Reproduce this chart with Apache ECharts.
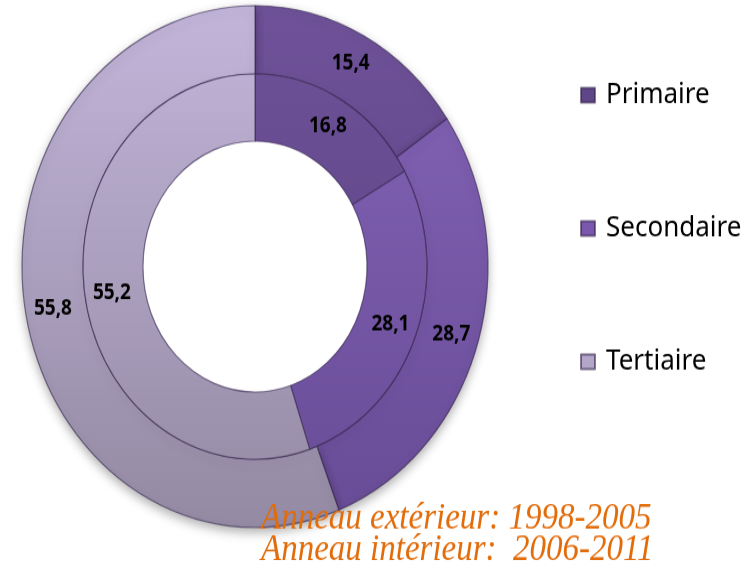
<!DOCTYPE html>
<html>
<head>
<meta charset="utf-8">
<script src="https://cdn.jsdelivr.net/npm/echarts@6/dist/echarts.min.js"></script>
<style>
  html, body { margin: 0; padding: 0; background: #ffffff; overflow: hidden; }
  #wrap { width: 746px; height: 568px; overflow: hidden; position: relative; }
  #chart { width: 746px; height: 507px; transform: scaleY(1.12); transform-origin: 0 0; }
</style>
</head>
<body>
<div id="wrap"><div id="chart"></div></div>
<script>
// ---- data ----
const categories = ['Primaire', 'Secondaire', 'Tertiaire'];
const outerValues = [15.4, 28.7, 55.8];   // Anneau extérieur: 1998-2005
const innerValues = [16.8, 28.1, 55.2];   // Anneau intérieur: 2006-2011
const captionLines = ['Anneau extérieur: 1998-2005', 'Anneau intérieur:  2006-2011'];

// ---- styles ----
const topColors = ['#6f5299', '#8464b8', '#c2b5da'];
const bottomColors = ['#584080', '#684c96', '#948aa3'];
const legendColors = ['#5f4688', '#7a58ad', '#b3a6c8'];
const cx = 255, cy = 238;

function grad(i) {
  return new echarts.graphic.LinearGradient(0, cy - 233, 0, cy + 233, [
    { offset: 0, color: topColors[i] },
    { offset: 1, color: bottomColors[i] }
  ], true);
}
function build(values) {
  return categories.map((c, i) => ({ name: c, value: values[i], itemStyle: { color: grad(i) } }));
}
const labelCfg = {
  show: true,
  position: 'inside',
  color: '#000',
  fontFamily: 'Noto Sans',
  fontWeight: 'bold',
  fontSize: 19,
  formatter: p => String(p.value).replace('.', ',')
};

const chart = echarts.init(document.getElementById('chart'));
chart.setOption({
  animation: false,
  backgroundColor: '#ffffff',
  title: {
    text: captionLines.join('\n'),
    left: 261,
    top: 449,
    padding: 0,
    textStyle: {
      fontFamily: 'Liberation Serif',
      fontStyle: 'italic',
      fontWeight: 'normal',
      fontSize: 33,
      lineHeight: 28,
      color: '#e36c0a'
    }
  },
  legend: {
    orient: 'vertical',
    left: 580,
    top: 70,
    padding: 0,
    itemGap: 89,
    itemWidth: 14,
    itemHeight: 13,
    icon: 'rect',
    textStyle: { fontFamily: 'Noto Sans', fontSize: 26, color: '#000', lineHeight: 30, padding: [0, 0, 0, 6] },
    data: categories.map((c, i) => ({ name: c, itemStyle: { color: legendColors[i] } }))
  },
  series: [
    {
      type: 'pie',
      name: 'outer',
      center: [cx, cy],
      radius: [172, 233],
      startAngle: 90,
      clockwise: true,
      label: labelCfg,
      labelLine: { show: false },
      itemStyle: {
        borderColor: 'rgba(50,35,75,0.6)',
        borderWidth: 1.2,
        shadowBlur: 10,
        shadowOffsetY: 4,
        shadowColor: 'rgba(0,0,0,0.3)'
      },
      emphasis: { disabled: true },
      data: build(outerValues)
    },
    {
      type: 'pie',
      name: 'inner',
      center: [cx, cy],
      radius: [112, 172],
      startAngle: 90,
      clockwise: true,
      label: labelCfg,
      labelLine: { show: false },
      itemStyle: {
        borderColor: 'rgba(50,35,75,0.6)',
        borderWidth: 1.2
      },
      emphasis: { disabled: true },
      data: build(innerValues)
    }
  ]
});
</script>
</body>
</html>
